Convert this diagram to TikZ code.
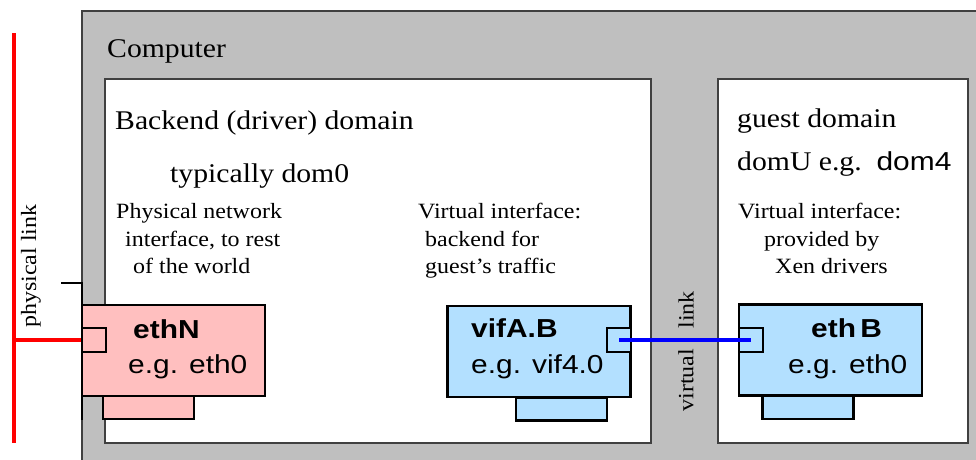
\documentclass[tikz,border=0pt]{standalone}
\usepackage{fontspec}
\newfontfamily\dserif[FakeStretch=1.1]{Liberation Serif}
\newfontfamily\dsans[FakeStretch=1.15]{Liberation Sans}
\definecolor{compgray}{HTML}{BFBFBF}
\definecolor{pinkfill}{HTML}{FFBFBF}
\definecolor{bluefill}{HTML}{B3E0FF}
\definecolor{framegray}{HTML}{404040}
\tikzset{
  compbox/.style={draw=framegray, line width=1.5pt, fill=compgray},
  dombox/.style={draw=framegray, line width=1.5pt, fill=white},
  ifbox/.style={draw=black, line width=2.5pt, inner sep=0pt, minimum width=183pt, minimum height=91pt},
  portbox/.style={draw=black, line width=2.5pt, inner sep=0pt, minimum width=24pt, minimum height=24pt},
  tabbox/.style={draw=black, line width=2.5pt, inner sep=0pt, minimum width=91pt, minimum height=23pt},
  bigtxt/.style={inner sep=0pt, anchor=base west, font=\dserif\fontsize{27}{30}\selectfont},
  smalltxt/.style={inner sep=0pt, anchor=base west, font=\dserif\fontsize{21.8}{27}\selectfont},
  rottxt/.style={inner sep=0pt, rotate=90, font=\dserif\fontsize{21.8}{27}\selectfont},
  iftitle/.style={inner sep=0pt, anchor=base west, font=\dsans\bfseries\fontsize{26}{30}\selectfont},
  ifsub/.style={inner sep=0pt, anchor=base west, font=\dsans\fontsize{26}{30}\selectfont},
  physline/.style={draw=red, line width=3.5pt},
  virtline/.style={draw=blue, line width=3.5pt},
  bracket/.style={draw=black, line width=2.5pt}
}
\begin{document}
\begin{tikzpicture}[x=1pt,y=-1pt]
\useasboundingbox (0,0) rectangle (976,459);
\clip (0,0) rectangle (976,459);
% computer
\draw[compbox] (82,11) rectangle (1000,480);
\node[bigtxt] (computer) at (107,57) {Computer};
% domains
\draw[dombox] (105,79) rectangle (651,443);
\draw[dombox] (718,79) rectangle (968,443);
\node[bigtxt] (backend) at (115,129) {Backend (driver) domain};
\node[bigtxt] (typ) at (170,182) {typically dom0};
\node[bigtxt] (guest) at (737,127) {guest domain};
\node[bigtxt] (domu) at (737,170) {domU e.g.\ \ {\dsans\fontsize{26}{30}\selectfont dom4}};
% descriptions
\node[smalltxt] (pn1) at (116,218) {Physical network};
\node[smalltxt] (pn2) at (125,246) {interface, to rest};
\node[smalltxt] (pn3) at (133,273) {of the world};
\node[smalltxt] (vb1) at (418,218) {Virtual interface:};
\node[smalltxt] (vb2) at (425,246) {backend for};
\node[smalltxt] (vb3) at (425,273) {guest’s traffic};
\node[smalltxt] (vg1) at (738,218) {Virtual interface:};
\node[smalltxt] (vg2) at (764,246) {provided by};
\node[smalltxt] (vg3) at (775,273) {Xen drivers};
% physical link bracket
\coordinate (bt) at (61,283);
\coordinate (bc) at (82,283);
\coordinate (bb) at (82,420);
\draw[bracket] (bt) -- (bc) -- (bb);
% ethN
\node[tabbox, fill=pinkfill] (ethNtab) at (148.5,407.5) {};
\node[ifbox, fill=pinkfill] (ethN) at (173.5,350.5) {};
\node[portbox, fill=pinkfill] (ethNport) at (94,340) {};
\node[iftitle] (ethNt) at (133,338) {ethN};
\node[ifsub] (ethNs) at (128,373) {e.g. eth0};
% vifA.B
\node[tabbox, fill=bluefill] (viftab) at (561.5,409) {};
\node[ifbox, fill=bluefill] (vif) at (539,351.5) {};
\node[portbox, fill=bluefill] (vifport) at (619,340) {};
\node[iftitle] (vift) at (471,337) {vifA.B};
\node[ifsub] (vifs) at (471,373) {e.g. vif4.0};
% ethB
\node[tabbox, fill=bluefill] (ethBtab) at (808,407.5) {};
\node[ifbox, fill=bluefill] (ethB) at (830.5,350) {};
\node[portbox, fill=bluefill] (ethBport) at (751,340) {};
\node[iftitle] (ethBt) at (811,337) {eth\,B};
\node[ifsub] (ethBs) at (788,373) {e.g. eth0};
% physical link
\coordinate (ptop) at (14,33);
\coordinate (pbot) at (14,443);
\coordinate (pmid) at (14,340);
\draw[physline] (ptop) -- (pbot);
\draw[physline] (pmid) -- (ethNport.west);
\node[rottxt] (plink) at (31,266) {physical link};
% virtual link
\draw[virtline] (vifport.center) -- (ethBport.center);
\node[rottxt] (vlink1) at (686,380) {virtual};
\node[rottxt] (vlink2) at (686,310) {link};
\end{tikzpicture}
\end{document}
